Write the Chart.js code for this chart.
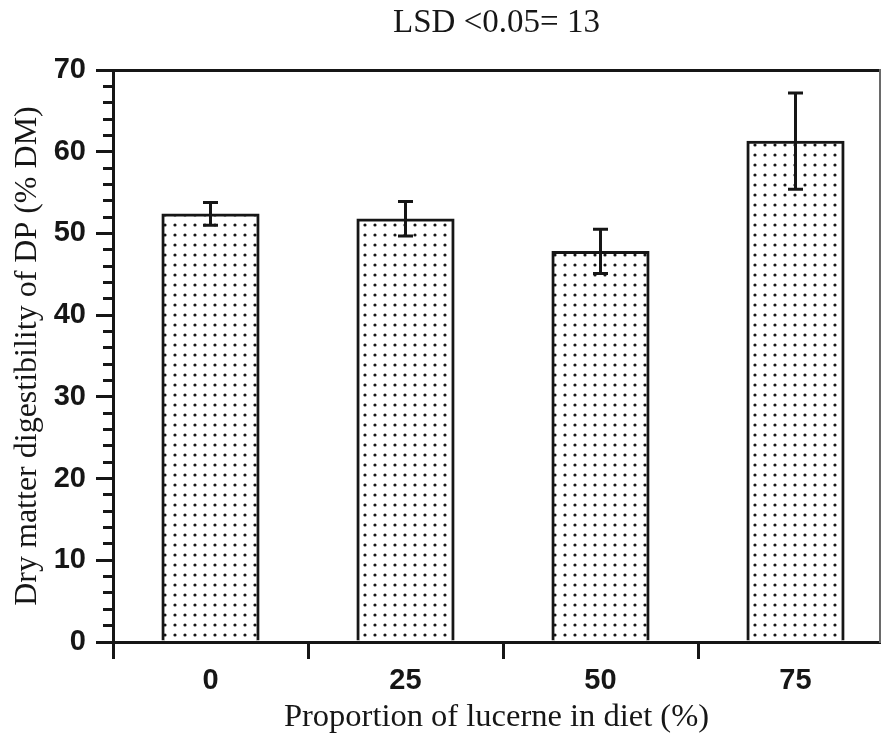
<!DOCTYPE html>
<html>
<head>
<meta charset="utf-8">
<title>Dry matter digestibility of DP</title>
<script src="https://cdn.jsdelivr.net/npm/chart.js@4/dist/chart.umd.min.js"></script>
<style>
  html, body { margin: 0; padding: 0; background: #fff; }
  #wrap { width: 882px; height: 735px; }
</style>
</head>
<body>
<div id="wrap"><canvas id="chart" width="882" height="735"></canvas></div>
<script>
// Lucerne inclusion levels (%) and measured dry matter digestibility (% DM)
const categories = ['0', '25', '50', '75'];
const digestibility = [52.4, 51.8, 47.8, 61.3];
const errorValues = [1.4, 2.1, 2.7, 5.9];
const yTickMajor = [0, 10, 20, 30, 40, 50, 60, 70];

const INK = '#161616';
const SERIF = '"Liberation Serif", "Times New Roman", serif';
const SANS = '"Liberation Sans", Arial, sans-serif';

// Stippled fill used for the bars
function makeDotPattern() {
  const c = document.createElement('canvas');
  c.width = 10; c.height = 10;
  const g = c.getContext('2d');
  g.fillStyle = '#fff';
  g.fillRect(0, 0, 10, 10);
  g.fillStyle = INK;
  g.beginPath();
  g.arc(5, 5, 1.6, 0, Math.PI * 2);
  g.fill();
  return g.createPattern(c, 'repeat');
}

// Vertical error bars with flat caps, positioned through the chart scales
const errorBarPlugin = {
  id: 'errorBars',
  afterDatasetsDraw(chart) {
    const meta = chart.getDatasetMeta(0);
    const y = chart.scales.y;
    const ctx = chart.ctx;
    ctx.save();
    ctx.strokeStyle = INK;
    ctx.lineWidth = 3;
    ctx.lineCap = 'butt';
    meta.data.forEach((bar, i) => {
      const v = digestibility[i];
      const e = errorValues[i];
      const yHi = y.getPixelForValue(v + e);
      const yLo = y.getPixelForValue(v - e);
      const half = 7.5;
      ctx.beginPath();
      ctx.moveTo(bar.x, yHi);
      ctx.lineTo(bar.x, yLo);
      ctx.moveTo(bar.x - half, yHi);
      ctx.lineTo(bar.x + half, yHi);
      ctx.moveTo(bar.x - half, yLo);
      ctx.lineTo(bar.x + half, yLo);
      ctx.stroke();
    });
    ctx.restore();
  }
};

// Category slots are 195 px wide; the frame stops just short of a fifth slot
const X_MIN = -0.5;
const X_MAX = -0.5 + 767 / 195;

const ctx = document.getElementById('chart').getContext('2d');
new Chart(ctx, {
  type: 'bar',
  data: {
    datasets: [{
      data: digestibility.map((v, i) => ({ x: i, y: v })),
      backgroundColor: makeDotPattern(),
      borderColor: INK,
      borderWidth: 3,
      borderSkipped: 'start',
      categoryPercentage: 1,
      barPercentage: 1
    }]
  },
  options: {
    responsive: false,
    animation: false,
    layout: { padding: { left: 0, right: 0, top: 0, bottom: 0 } },
    plugins: {
      legend: { display: false },
      tooltip: { enabled: false },
      title: {
        display: true,
        fullSize: false,
        text: 'LSD <0.05= 13',
        color: INK,
        font: { family: SERIF, size: 33, weight: 'normal', lineHeight: 1.2 },
        padding: { top: 4, bottom: 26.4 }
      }
    },
    scales: {
      x: {
        type: 'linear',
        position: 'bottom',
        offset: false,
        min: X_MIN,
        max: X_MAX,
        z: 1,
        // half-slot ticks: marks between the bars, labels under them
        afterBuildTicks(scale) {
          scale.ticks = [-0.5, 0, 0.5, 1, 1.5, 2, 2.5, 3].map(v => ({ value: v }));
        },
        afterFit(scale) { scale.height = 93; },
        border: { display: true, color: INK, width: 3 },
        grid: {
          offset: false,
          drawOnChartArea: false,
          drawTicks: true,
          tickLength: 17,
          tickColor: (c) => {
            const v = c.tick ? c.tick.value : 0;
            return Number.isInteger(v) ? 'rgba(0,0,0,0)' : INK;
          },
          tickWidth: 3
        },
        ticks: {
          autoSkip: false,
          maxRotation: 0,
          padding: 5,
          color: INK,
          font: { family: SANS, size: 29, weight: 'bold' },
          callback: (v) => Number.isInteger(v) && categories[v] !== undefined ? categories[v] : ''
        },
        title: {
          display: true,
          text: 'Proportion of lucerne in diet (%)',
          color: INK,
          font: { family: SERIF, size: 32.5, weight: 'normal', lineHeight: 1 },
          padding: { top: 0, bottom: 1 }
        }
      },
      y: {
        min: 0,
        max: 70,
        afterFit(scale) { scale.width = 113; },
        border: { display: true, color: INK, width: 3 },
        grid: {
          drawOnChartArea: true,
          tickLength: 17,
          lineWidth: 3,
          color: (c) => (c.tick && c.tick.value === 70) ? INK : 'rgba(0,0,0,0)',
          tickColor: INK,
          tickWidth: 3,
          // minor ticks: only the inner 10 px of the tick is inked
          tickBorderDash: (c) => (c.tick && yTickMajor.includes(c.tick.value)) ? [] : [0, 7, 20]
        },
        ticks: {
          stepSize: 2,
          autoSkip: false,
          padding: 10,
          color: INK,
          font: { family: SANS, size: 29, weight: 'bold' },
          callback: (v) => yTickMajor.includes(v) ? String(v) : ''
        },
        title: {
          display: true,
          text: 'Dry matter digestibility of DP (% DM)',
          color: INK,
          font: { family: SERIF, size: 32, weight: 'normal', lineHeight: 1.2 },
          padding: { top: 8, bottom: 0 }
        }
      },
      // right-hand frame edge
      yRight: {
        position: 'right',
        min: 0,
        max: 70,
        afterFit(scale) { scale.width = 2; },
        border: { display: true, color: '#6a6a6a', width: 2 },
        grid: { display: false, drawTicks: false },
        ticks: { display: false }
      }
    }
  },
  plugins: [errorBarPlugin]
});
</script>
</body>
</html>
